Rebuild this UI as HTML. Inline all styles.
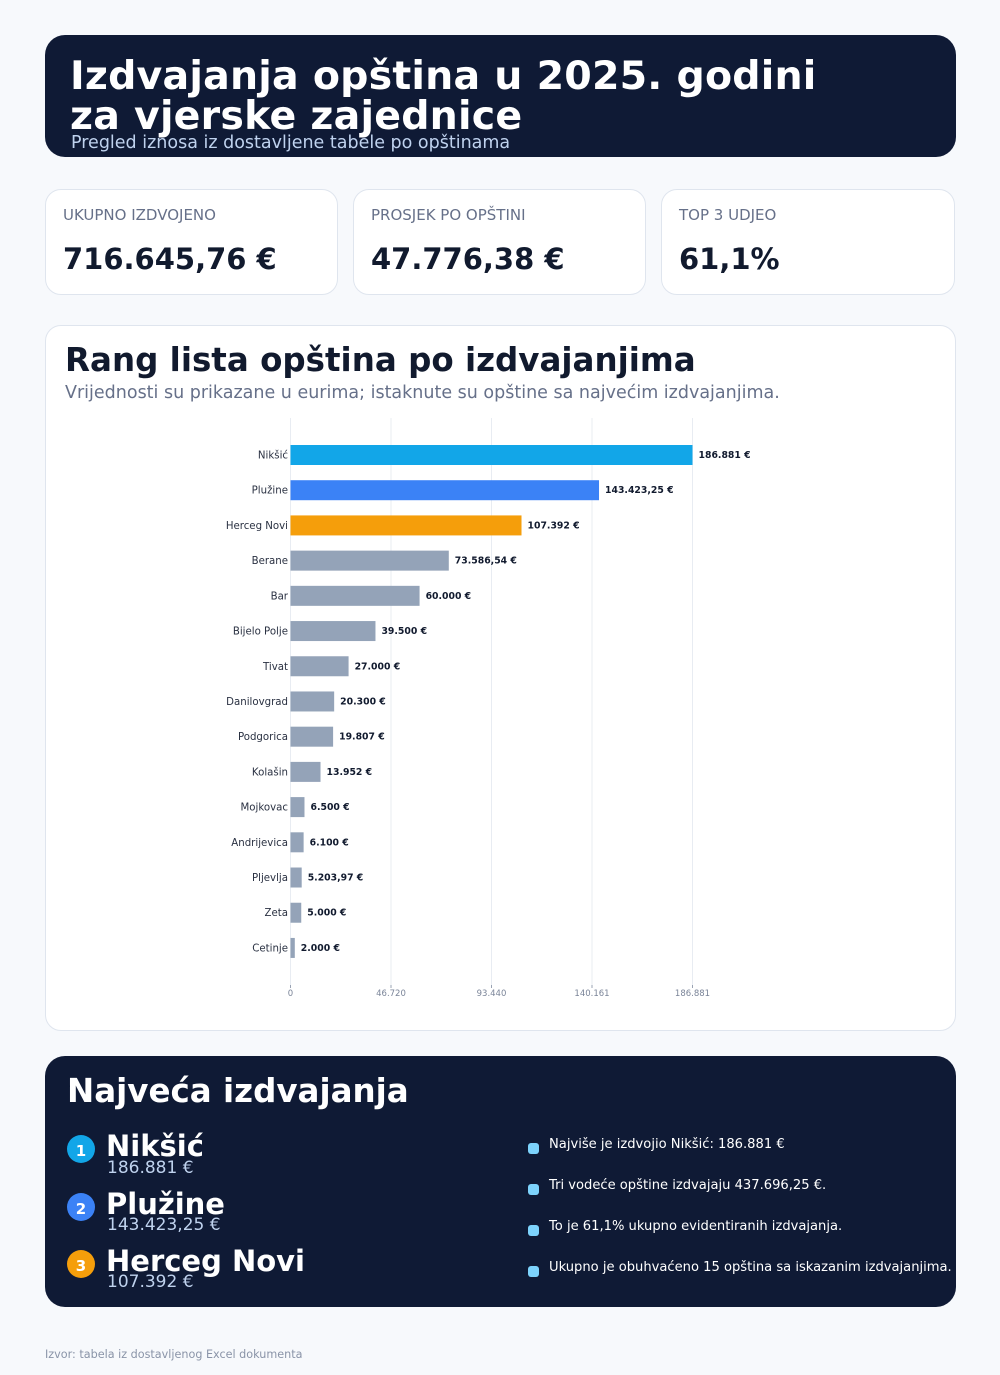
<!DOCTYPE html>
<html><head><meta charset="utf-8">
<style>
*{margin:0;padding:0;box-sizing:border-box}
body{width:1000px;height:1375px;background:#f7f9fc;font-family:"DejaVu Sans","Liberation Sans",sans-serif;position:relative;overflow:hidden}
.abs{position:absolute}
.hdr{left:45px;top:35px;width:911px;height:122px;background:#0f1a35;border-radius:20px;overflow:hidden}
.hdr h1{position:absolute;left:25px;top:21px;color:#fff;font-size:39.5px;line-height:40px;font-weight:bold;letter-spacing:0.2px}
.hdr p{position:absolute;left:26px;top:98px;color:#bfd2ee;font-size:17.5px;line-height:20px}
.card{background:#fff;border:1px solid #dfe5ee;border-radius:16px}
.kl{position:absolute;left:17px;top:16px;color:#667089;font-size:15px}
.kv{position:absolute;left:17px;top:52px;color:#111a2e;font-size:29px;font-weight:bold}
.dark{left:45px;top:1056px;width:911px;height:251px;background:#0f1a35;border-radius:20px}
</style></head><body>
<div class="abs hdr"><h1>Izdvajanja opština u 2025. godini<br>za vjerske zajednice</h1><p>Pregled iznosa iz dostavljene tabele po opštinama</p></div>

<div class="abs card" style="left:45px;top:189px;width:293px;height:106px"><div class="kl">UKUPNO IZDVOJENO</div><div class="kv">716.645,76 €</div></div>
<div class="abs card" style="left:353px;top:189px;width:293px;height:106px"><div class="kl">PROSJEK PO OPŠTINI</div><div class="kv">47.776,38 €</div></div>
<div class="abs card" style="left:661px;top:189px;width:294px;height:106px"><div class="kl">TOP 3 UDJEO</div><div class="kv">61,1%</div></div>

<div class="abs card" style="left:45px;top:325px;width:911px;height:706px">
<div class="abs" style="left:19px;top:15px;font-size:32.5px;font-weight:bold;color:#111a2e">Rang lista opština po izdvajanjima</div>
<div class="abs" style="left:19px;top:57px;font-size:17.5px;color:#667089">Vrijednosti su prikazane u eurima; istaknute su opštine sa najvećim izdvajanjima.</div>
</div>

<svg class="abs" style="left:0;top:0" width="1000" height="1375" font-family="DejaVu Sans, Liberation Sans, sans-serif">
<g stroke="#e8ecf2" stroke-width="1">
<line x1="290.5" y1="418" x2="290.5" y2="985"/><line x1="391" y1="418" x2="391" y2="985"/><line x1="491.5" y1="418" x2="491.5" y2="985"/><line x1="592" y1="418" x2="592" y2="985"/><line x1="692.5" y1="418" x2="692.5" y2="985"/>
</g>
<g stroke="#9aa3b3" stroke-width="1"><line x1="290.5" y1="985" x2="290.5" y2="988"/><line x1="391" y1="985" x2="391" y2="988"/><line x1="491.5" y1="985" x2="491.5" y2="988"/><line x1="592" y1="985" x2="592" y2="988"/><line x1="692.5" y1="985" x2="692.5" y2="988"/></g>
<g font-size="8.5" fill="#7a8498" text-anchor="middle"><text x="290.5" y="996">0</text><text x="391" y="996">46.720</text><text x="491.5" y="996">93.440</text><text x="592" y="996">140.161</text><text x="692.5" y="996">186.881</text></g>
<g id="bars"></g>
</svg>

<div class="abs dark">
<div class="abs" style="left:22px;top:16px;color:#fff;font-size:32.5px;font-weight:bold">Najveća izdvajanja</div>
</div>
<div class="abs" style="left:0;top:0;width:1000px;height:1375px">
<div class="abs" style="left:67px;top:1135px;width:28px;height:28px;border-radius:50%;background:#12a6e8;color:#fff;font-weight:bold;font-size:15px;text-align:center;line-height:32px">1</div>
<div class="abs" style="left:106px;top:1129px;color:#fff;font-weight:bold;font-size:29px">Nikšić</div>
<div class="abs" style="left:107px;top:1158px;color:#bfd2ee;font-size:17px">186.881 €</div>
<div class="abs" style="left:67px;top:1193px;width:28px;height:28px;border-radius:50%;background:#3b82f6;color:#fff;font-weight:bold;font-size:15px;text-align:center;line-height:32px">2</div>
<div class="abs" style="left:106px;top:1187px;color:#fff;font-weight:bold;font-size:29px">Plužine</div>
<div class="abs" style="left:107px;top:1215px;color:#bfd2ee;font-size:17px">143.423,25 €</div>
<div class="abs" style="left:67px;top:1250px;width:28px;height:28px;border-radius:50%;background:#f59e0b;color:#fff;font-weight:bold;font-size:15px;text-align:center;line-height:32px">3</div>
<div class="abs" style="left:106px;top:1244px;color:#fff;font-weight:bold;font-size:29px">Herceg Novi</div>
<div class="abs" style="left:107px;top:1272px;color:#bfd2ee;font-size:17px">107.392 €</div>

<div class="abs" style="left:528px;top:1143px;width:11px;height:11px;border-radius:3px;background:#7dd3fc"></div>
<div class="abs" style="left:549px;top:1137px;color:#fff;font-size:13.1px">Najviše je izdvojio Nikšić: 186.881 €</div>
<div class="abs" style="left:528px;top:1184px;width:11px;height:11px;border-radius:3px;background:#7dd3fc"></div>
<div class="abs" style="left:549px;top:1178px;color:#fff;font-size:13.1px">Tri vodeće opštine izdvajaju 437.696,25 €.</div>
<div class="abs" style="left:528px;top:1225px;width:11px;height:11px;border-radius:3px;background:#7dd3fc"></div>
<div class="abs" style="left:549px;top:1219px;color:#fff;font-size:13.1px">To je 61,1% ukupno evidentiranih izdvajanja.</div>
<div class="abs" style="left:528px;top:1266px;width:11px;height:11px;border-radius:3px;background:#7dd3fc"></div>
<div class="abs" style="left:549px;top:1260px;color:#fff;font-size:13.1px;white-space:nowrap">Ukupno je obuhvaćeno 15 opština sa iskazanim izdvajanjima.</div>

<div class="abs" style="left:45px;top:1348px;color:#8a94a8;font-size:11.2px">Izvor: tabela iz dostavljenog Excel dokumenta</div>
</div>

<script>
var d=[["Nikšić",186881,"186.881 €","#12a6e8"],["Plužine",143423.25,"143.423,25 €","#3b82f6"],["Herceg Novi",107392,"107.392 €","#f59e0b"],["Berane",73586.54,"73.586,54 €"],["Bar",60000,"60.000 €"],["Bijelo Polje",39500,"39.500 €"],["Tivat",27000,"27.000 €"],["Danilovgrad",20300,"20.300 €"],["Podgorica",19807,"19.807 €"],["Kolašin",13952,"13.952 €"],["Mojkovac",6500,"6.500 €"],["Andrijevica",6100,"6.100 €"],["Pljevlja",5203.97,"5.203,97 €"],["Zeta",5000,"5.000 €"],["Cetinje",2000,"2.000 €"]];
var g=document.getElementById("bars"),s="";
d.forEach(function(r,i){var y=455+i*35.21,w=402*r[1]/186881,c=r[3]||"#94a3b8";
s+='<rect x="290.5" y="'+(y-10)+'" width="'+w+'" height="20" fill="'+c+'"/>';
s+='<text x="288" y="'+(y+3.5)+'" font-size="10.2" fill="#2a3142" text-anchor="end">'+r[0]+'</text>';
s+='<text x="'+(290.5+w+6)+'" y="'+(y+3)+'" font-size="9.3" font-weight="bold" fill="#111a2e">'+r[2]+'</text>';});
g.innerHTML=s;
</script>
</body></html>
